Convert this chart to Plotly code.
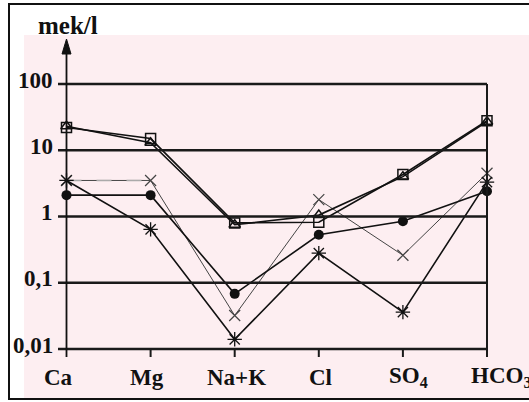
import math
import plotly.graph_objects as go

# ---- data ----
ions = ["Ca", "Mg", "Na+K", "Cl", "SO4", "HCO3"]
ion_labels = ["Ca", "Mg", "Na+K", "Cl", "SO<sub>4</sub>", "HCO<sub>3</sub>"]
series_a = [22, 15, 0.8, 0.82, 4.3, 28]      # open squares
series_b = [23, 13, 0.75, 1.05, 4.0, 27]     # open triangles
series_c = [2.1, 2.1, 0.068, 0.53, 0.85, 2.4]  # filled circles
series_d = [3.5, 3.5, 0.032, 1.8, 0.26, 4.5]   # thin x
series_e = [3.5, 0.64, 0.014, 0.28, 0.036, 3.3]  # asterisks
y_ticks = [100, 10, 1, 0.1, 0.01]
y_tick_text = ["100", "10", "1", "0,1", "0,01"]
y_unit = "mek/l"

# ---- geometry (pixels) ----
WIDTH, HEIGHT = 529, 402
L, R, T, B = 50, 0, 35, 42
PW = WIDTH - L - R
PH = HEIGHT - T - B
X0_PX, X5_PX = 66.5, 487.0
unit = (X5_PX - X0_PX) / 5
xr = [(L - X0_PX) / unit, (WIDTH - R - X0_PX) / unit]
DEC = 66.25
y_top_log = 2 + (84 - T) / DEC
y_bot_log = y_top_log - PH / DEC
yr = [y_bot_log, y_top_log]


def px_x(px):
    return (px - L) / PW


def py_y(py):
    return (T + PH - py) / PH


def val_py(v):
    return T + (y_top_log - math.log10(v)) * DEC


FONT = "Liberation Serif"
xs = list(range(len(ions)))

fig = go.Figure()

shapes = []
# faint watermark tint
shapes.append(dict(type="rect", xref="paper", yref="paper",
                   x0=px_x(24), x1=px_x(535), y0=py_y(398), y1=py_y(35),
                   fillcolor="#fdeef1", line=dict(width=0), layer="below"))
# outer frame
shapes.append(dict(type="rect", xref="paper", yref="paper",
                   x0=px_x(9), x1=px_x(545), y0=py_y(399), y1=py_y(4),
                   line=dict(color="#111", width=2), layer="below"))
# horizontal grid lines
for v in y_ticks:
    shapes.append(dict(type="line", xref="x", yref="y",
                       x0=(58 - X0_PX) / unit, x1=5, y0=v, y1=v,
                       line=dict(color="#1a1a1a", width=2.5)))
# right vertical line
shapes.append(dict(type="line", xref="x", yref="paper", x0=5, x1=5,
                   y0=py_y(357), y1=py_y(val_py(y_ticks[0])),
                   line=dict(color="#1a1a1a", width=2)))
# bottom ticks
for i in xs[1:-1]:
    shapes.append(dict(type="line", xref="x", yref="paper", x0=i, x1=i,
                       y0=py_y(357), y1=py_y(val_py(y_ticks[-1])),
                       line=dict(color="#1a1a1a", width=2)))
# Ca axis with arrow
shapes.append(dict(type="line", xref="x", yref="paper", x0=0, x1=0,
                   y0=py_y(357), y1=py_y(50),
                   line=dict(color="#111", width=1.8)))
hw = 4.5 / unit
shapes.append(dict(type="path", xref="x", yref="paper",
                   path=f"M {-hw},{py_y(54)} L 0,{py_y(39)} L {hw},{py_y(54)} Z",
                   fillcolor="#111", line=dict(color="#111", width=1)))

line_kw = dict(mode="lines+markers", hoverinfo="skip", showlegend=False)
fig.add_trace(go.Scatter(x=xs, y=series_d, line=dict(color="#444", width=1),
                         marker=dict(symbol="x-thin-open", size=11,
                                     line=dict(color="#333", width=1.2)), **line_kw))
fig.add_trace(go.Scatter(x=xs[:2], y=series_d[:2], line=dict(color="#aaa", width=1.5, dash="longdash"),
                         mode="lines", hoverinfo="skip", showlegend=False))
fig.add_trace(go.Scatter(x=xs, y=series_e, line=dict(color="#111", width=1.6),
                         marker=dict(symbol="asterisk-open", size=12,
                                     line=dict(color="#111", width=1.3)), **line_kw))
fig.add_trace(go.Scatter(x=xs, y=series_c, line=dict(color="#111", width=1.6),
                         marker=dict(symbol="circle", size=10, color="#111"), **line_kw))
fig.add_trace(go.Scatter(x=xs, y=series_b, line=dict(color="#111", width=1.6),
                         marker=dict(symbol="triangle-up-open", size=10,
                                     line=dict(color="#111", width=1.5)), **line_kw))
fig.add_trace(go.Scatter(x=xs, y=series_a, line=dict(color="#111", width=1.6),
                         marker=dict(symbol="square-open", size=10,
                                     line=dict(color="#111", width=1.5)), **line_kw))

annotations = []
label_px = [58.5, 147, 236, 320, 408, 469]
for i, (lab, cx) in enumerate(zip(ion_labels, label_px)):
    last = i == len(ion_labels) - 1
    annotations.append(dict(x=px_x(cx), y=py_y(377), xref="paper", yref="paper", text=lab,
                            showarrow=False, xanchor="left" if last else "center", yanchor="middle",
                            font=dict(family=FONT, size=23, color="#111", weight="bold")))
for v, t in zip(y_ticks, y_tick_text):
    annotations.append(dict(x=px_x(55), y=math.log10(v), xref="paper", yref="y", text=t,
                            showarrow=False, xanchor="right", yanchor="middle", yshift=4,
                            font=dict(family=FONT, size=23, color="#111", weight="bold")))
annotations.append(dict(x=px_x(36), y=py_y(25), xref="paper", yref="paper", text=y_unit,
                        showarrow=False, xanchor="left", yanchor="middle",
                        font=dict(family=FONT, size=25, color="#111", weight="bold")))

fig.update_layout(
    width=WIDTH, height=HEIGHT,
    margin=dict(l=L, r=R, t=T, b=B),
    paper_bgcolor="white", plot_bgcolor="rgba(0,0,0,0)",
    xaxis=dict(range=xr, visible=False, fixedrange=True),
    yaxis=dict(type="log", range=yr, visible=False, fixedrange=True),
    shapes=shapes, annotations=annotations,
)

fig.write_html("out.html", config={"displayModeBar": False},
               post_script="document.body.style.margin='0';document.body.style.overflow='hidden';")
